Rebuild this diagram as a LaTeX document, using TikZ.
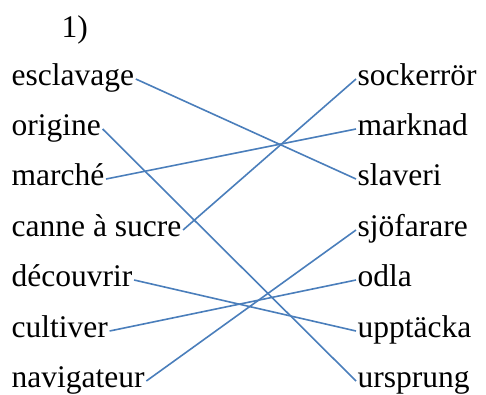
\documentclass[tikz,border=0pt]{standalone}
\usepackage{fontspec}
\setmainfont{Liberation Serif}
\usepackage{tikz}
\definecolor{linkblue}{RGB}{74,126,187}
\tikzset{
  word/.style={inner sep=1.5pt, text height=18pt, text depth=6pt, font=\fontsize{31.5}{35}\selectfont},
  link/.style={draw=linkblue, line width=1.6pt}
}
\begin{document}
\begin{tikzpicture}[x=1pt, y=-1pt]
              \useasboundingbox (0, 0) rectangle (486, 394);
              \node [word, anchor=base west] (num) at (60, 37) {1)};
              % left column
              \node [word, anchor=base west] (esclavage) at (10, 85) {esclavage};
              \node [word, anchor=base west] (origine) at (10, 135) {origine};
              \node [word, anchor=base west] (marche) at (10, 185) {marché};
              \node [word, anchor=base west] (canne) at (10, 236) {canne à sucre};
              \node [word, anchor=base west] (decouvrir) at (10, 286) {découvrir};
              \node [word, anchor=base west] (cultiver) at (10, 337) {cultiver};
              \node [word, anchor=base west] (navigateur) at (10, 387) {navigateur};
              % right column
              \node [word, anchor=base west] (sockerror) at (356, 85) {sockerrör};
              \node [word, anchor=base west] (marknad) at (356, 135) {marknad};
              \node [word, anchor=base west] (slaveri) at (356, 185) {slaveri};
              \node [word, anchor=base west] (sjofarare) at (356, 236) {sjöfarare};
              \node [word, anchor=base west] (odla) at (356, 286) {odla};
              \node [word, anchor=base west] (upptacka) at (356, 337) {upptäcka};
              \node [word, anchor=base west] (ursprung) at (356, 387) {ursprung};
              % pairs
              \draw [link] (esclavage.east) -- (slaveri.west);
              \draw [link] (origine.east) -- (ursprung.west);
              \draw [link] (marche.east) -- (marknad.west);
              \draw [link] (canne.east) -- (sockerror.west);
              \draw [link] (decouvrir.east) -- (upptacka.west);
              \draw [link] (cultiver.east) -- (odla.west);
              \draw [link] (navigateur.east) -- (sjofarare.west);
\end{tikzpicture}
\end{document}
